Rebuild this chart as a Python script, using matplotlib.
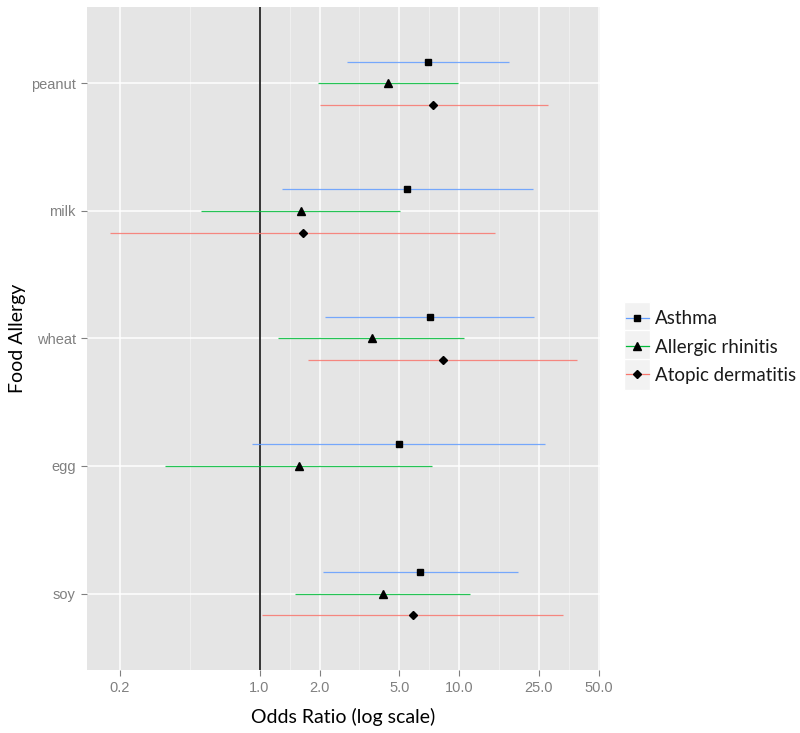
import numpy as np
import matplotlib
matplotlib.use("Agg")
import matplotlib.pyplot as plt
from matplotlib.lines import Line2D
from matplotlib.patches import Rectangle
from matplotlib.legend_handler import HandlerLine2D
from matplotlib.ticker import FixedLocator, NullFormatter

# Food allergy vs. outcomes, odds ratios with 95% CI
foods = ["peanut", "milk", "wheat", "egg", "soy"]
outcomes = ["Asthma", "Allergic rhinitis", "Atopic dermatitis"]

asthma_or = [6.95, 5.45, 7.1, 5.0, 6.38]
asthma_lo = [2.75, 1.30, 2.13, 0.92, 2.08]
asthma_hi = [17.7, 23.3, 23.6, 26.9, 19.6]

rhinitis_or = [4.42, 1.61, 3.66, 1.57, 4.13]
rhinitis_lo = [1.96, 0.508, 1.24, 0.336, 1.50]
rhinitis_hi = [9.9, 5.06, 10.5, 7.27, 11.3]

derm_or = [7.42, 1.65, 8.3, np.nan, 5.84]
derm_lo = [2.0, 0.179, 1.74, np.nan, 1.03]
derm_hi = [27.7, 15.1, 38.7, np.nan, 33.1]

x_ticks = [0.2, 1.0, 2.0, 5.0, 10.0, 25.0, 50.0]
x_tick_labels = ["0.2", "1.0", "2.0", "5.0", "10.0", "25.0", "50.0"]

# ggplot default hues for 3 groups
colors = ["#619CFF", "#00BA38", "#F8766D"]
markers = ["s", "^", "D"]
marker_sizes = [5, 5.5, 4.2]
dodge = [0.17, 0.0, -0.17]

series = [
    (asthma_or, asthma_lo, asthma_hi),
    (rhinitis_or, rhinitis_lo, rhinitis_hi),
    (derm_or, derm_lo, derm_hi),
]

label_font = ["Lato", "DejaVu Sans"]
tick_font = ["Liberation Sans Narrow", "Liberation Sans", "DejaVu Sans"]
tick_grey = "#808080"

fig = plt.figure(figsize=(8, 7.33), dpi=100)
ax = fig.add_axes([87 / 800, 63 / 733, 513 / 800, 663 / 733])
ax.set_facecolor("#E5E5E5")
for s in ax.spines.values():
    s.set_visible(False)

base_y = np.arange(len(foods))[::-1].astype(float)  # peanut on top

for (orr, lo, hi), col, mk, ms, dy in zip(series, colors, markers, marker_sizes, dodge):
    y = base_y + dy
    ax.hlines(y, lo, hi, colors=col, linewidth=0.9, alpha=0.85, zorder=3)
    ax.plot(orr, y, linestyle="none", marker=mk, markersize=ms,
            color="black", zorder=4)

ax.axvline(1.0, color="black", linewidth=1.1, zorder=2.5)

# x scale: log, 5% expansion of data range like ggplot
ax.set_xscale("log")
all_lo = np.nanmin(np.concatenate([asthma_lo, rhinitis_lo, derm_lo]))
all_hi = np.nanmax(np.concatenate([asthma_hi, rhinitis_hi, derm_hi]))
pad = 0.05 * (np.log10(all_hi) - np.log10(all_lo))
ax.set_xlim(10 ** (np.log10(all_lo) - pad), 10 ** (np.log10(all_hi) + pad))
ax.set_ylim(-0.6, len(foods) - 1 + 0.6)

ax.xaxis.set_major_locator(FixedLocator(x_ticks))
ax.set_xticklabels(x_tick_labels)
minor = [np.sqrt(a * b) for a, b in zip(x_ticks[:-1], x_ticks[1:])]
ax.xaxis.set_minor_locator(FixedLocator(minor))
ax.xaxis.set_minor_formatter(NullFormatter())
ax.set_yticks(base_y)
ax.set_yticklabels(foods)

ax.grid(True, which="major", color="white", linewidth=1.1, zorder=0)
ax.grid(True, which="minor", axis="x", color="#F2F2F2", linewidth=0.6, zorder=0)
ax.set_axisbelow(True)

ax.tick_params(axis="both", which="major", length=4, width=0.8, color=tick_grey,
               labelcolor=tick_grey, labelsize=10.5, pad=4)
ax.tick_params(axis="x", which="minor", length=0)
for lab in ax.get_xticklabels() + ax.get_yticklabels():
    lab.set_family(tick_font)

ax.set_xlabel("Odds Ratio (log scale)", family=label_font, fontsize=14, va="center")
ax.xaxis.set_label_coords(0.5, (670 - 717) / 663)
ax.set_ylabel("Food Allergy", family=label_font, fontsize=14, va="center")
ax.yaxis.set_label_coords((18 - 87) / 513, 0.5)


# legend keys with grey background like ggplot
class KeyHandler(HandlerLine2D):
    def create_artists(self, legend, orig_handle, xdescent, ydescent,
                       width, height, fontsize, trans):
        box = Rectangle((-xdescent - 1, -ydescent - 6.5), width + 2, height + 13,
                        facecolor="#F2F2F2", edgecolor="white", linewidth=1,
                        transform=trans)
        arts = super().create_artists(legend, orig_handle, xdescent, ydescent,
                                      width, height, fontsize, trans)
        return [box] + arts


handles = [Line2D([], [], color=c, marker=m, markersize=ms, linewidth=0.9,
                  markerfacecolor="black", markeredgecolor="black")
           for c, m, ms in zip(colors, markers, marker_sizes)]
leg = fig.legend(handles, outcomes, loc="center left",
                 bbox_to_anchor=(618 / 800, 1 - 347 / 733),
                 frameon=False, handlelength=1.25, handletextpad=0.3,
                 labelspacing=0.6, borderaxespad=0,
                 prop={"family": label_font, "size": 13.5},
                 handler_map={Line2D: KeyHandler(numpoints=1)})
for t in leg.get_texts():
    t.set_color("#1A1A1A")

fig.savefig("out.png", dpi=100)
